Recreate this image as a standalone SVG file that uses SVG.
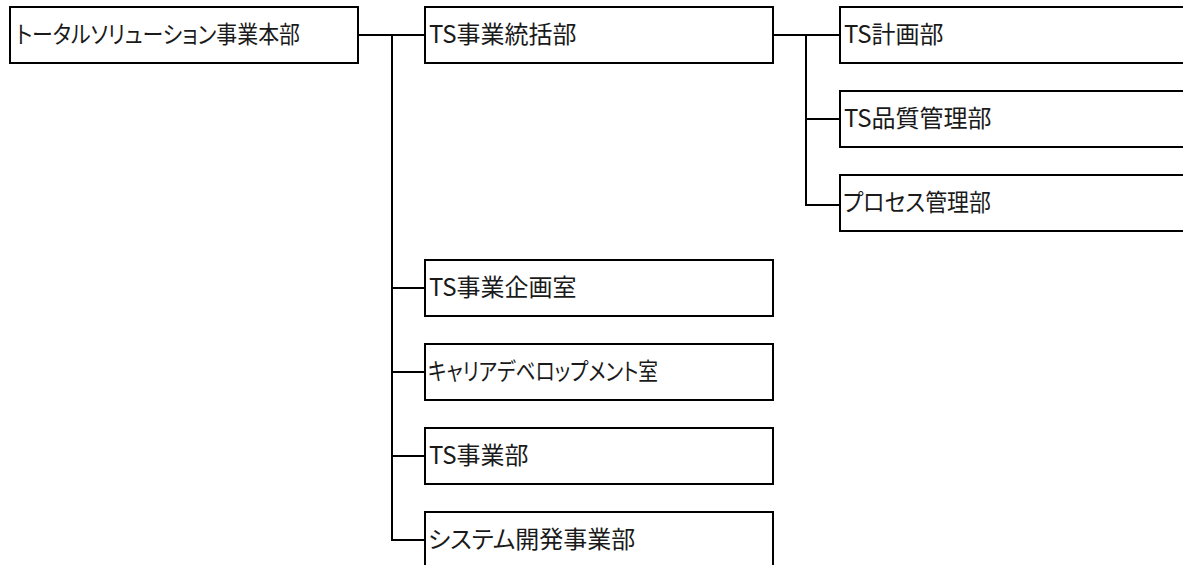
<svg xmlns="http://www.w3.org/2000/svg" width="1183" height="565" viewBox="0 0 1183 565">
<style>
.box{fill:#fff;stroke:#000;stroke-width:2}
.lbl{font-family:"Noto Sans CJK JP","Noto Sans",sans-serif;font-size:24px;fill:#1a1a1a;font-feature-settings:"palt" 1}
.con{fill:none;stroke:#000;stroke-width:2}
</style>
<rect width="1183" height="565" fill="#fff"/>
<g id="connectors">
<path class="con" d="M358,35H425 M392,35V540H425 M392,288H425 M392,372H425 M392,456H425"/>
<path class="con" d="M773,35H840 M806,35V205H840 M806,119H840"/>
</g>
<g id="n-honbu"><rect class="box" x="10" y="7" width="348" height="56"/><text class="lbl" x="16" y="43" textLength="284" lengthAdjust="spacingAndGlyphs">トータルソリューション事業本部</text></g>
<g id="n-tougatsu"><rect class="box" x="425" y="7" width="348" height="56"/><text class="lbl" x="429" y="43">TS事業統括部</text></g>
<g id="n-keikaku"><rect class="box" x="840" y="7" width="348" height="56"/><text class="lbl" x="844" y="43">TS計画部</text></g>
<g id="n-hinshitsu"><rect class="box" x="840" y="91" width="348" height="56"/><text class="lbl" x="844" y="127">TS品質管理部</text></g>
<g id="n-process"><rect class="box" x="840" y="175" width="348" height="56"/><text class="lbl" x="843" y="211" textLength="148" lengthAdjust="spacingAndGlyphs">プロセス管理部</text></g>
<g id="n-kikaku"><rect class="box" x="425" y="260" width="348" height="56"/><text class="lbl" x="429" y="296">TS事業企画室</text></g>
<g id="n-career"><rect class="box" x="425" y="344" width="348" height="56"/><text class="lbl" x="428" y="380" textLength="230" lengthAdjust="spacingAndGlyphs">キャリアデベロップメント室</text></g>
<g id="n-jigyo"><rect class="box" x="425" y="428" width="348" height="56"/><text class="lbl" x="429" y="464">TS事業部</text></g>
<g id="n-system"><rect class="box" x="425" y="512" width="348" height="56"/><text class="lbl" x="428" y="548">システム開発事業部</text></g>
</svg>
